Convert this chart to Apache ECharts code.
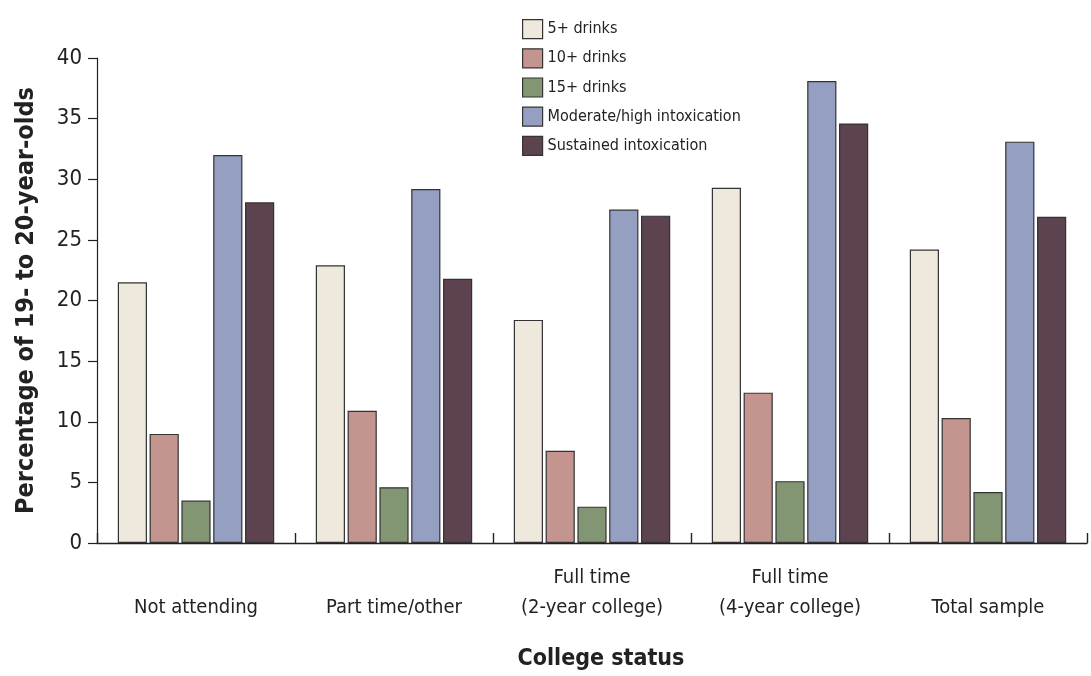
<!DOCTYPE html>
<html>
<head>
<meta charset="utf-8">
<script src="https://cdn.jsdelivr.net/npm/echarts@6/dist/echarts.min.js"></script>
<style>
html,body{margin:0;padding:0;background:#fff;}
#chart{width:1091px;height:676px;}
</style>
</head>
<body>
<div id="chart"></div>
<script>
var categories = ['Not attending', 'Part time/other', 'Full time\n(2-year college)', 'Full time\n(4-year college)', 'Total sample'];
var seriesNames = ['5+ drinks', '10+ drinks', '15+ drinks', 'Moderate/high intoxication', 'Sustained intoxication'];
var drinks5 = [21.5, 22.9, 18.4, 29.3, 24.2];
var drinks10 = [9.0, 10.9, 7.6, 12.4, 10.3];
var drinks15 = [3.5, 4.6, 3.0, 5.1, 4.2];
var moderateHigh = [32.0, 29.2, 27.5, 38.1, 33.1];
var sustained = [28.1, 21.8, 27.0, 34.6, 26.9];
var yTicks = [0, 5, 10, 15, 20, 25, 30, 35, 40];

var colors = ['#EFE8DC', '#C4948E', '#839674', '#949FC2', '#5D4350'];
var allData = [drinks5, drinks10, drinks15, moderateHigh, sustained];
var fontFam = '"Liberation Sans Narrow", "DejaVu Sans Condensed", "Liberation Sans", sans-serif';

var chart = echarts.init(document.getElementById('chart'));
chart.setOption({
  animation: false,
  textStyle: { fontFamily: fontFam, color: '#222' },
  legend: {
    orient: 'vertical',
    left: 517,
    top: 14,
    icon: 'rect',
    itemWidth: 20,
    itemHeight: 19,
    itemGap: 9,
    textStyle: { fontSize: 16, color: '#222', fontFamily: fontFam },
    data: seriesNames.map(function (n, i) {
      return { name: n, itemStyle: { color: colors[i], borderColor: '#333', borderWidth: 1.2 } };
    })
  },
  grid: { left: 97, right: 4, top: 58, bottom: 131, containLabel: false },
  xAxis: {
    type: 'category',
    data: categories,
    axisLine: { lineStyle: { color: '#222', width: 1.4 } },
    axisTick: { show: true, inside: true, length: 10, alignWithLabel: false, lineStyle: { color: '#222', width: 1.4 } },
    axisLabel: { fontSize: 20, color: '#222', fontFamily: fontFam, lineHeight: 30, verticalAlign: 'bottom', margin: 80, interval: 0 },
    name: 'College status',
    nameLocation: 'middle',
    nameGap: 105,
    nameTextStyle: { fontSize: 23, fontWeight: 'bold', color: '#222', fontFamily: fontFam, padding: [0, 0, 0, 18] }
  },
  yAxis: {
    type: 'value',
    min: yTicks[0],
    max: yTicks[yTicks.length - 1],
    interval: 5,
    splitLine: { show: false },
    axisLine: { show: true, lineStyle: { color: '#222', width: 1.2 } },
    axisTick: { show: true, length: 9, lineStyle: { color: '#222', width: 1.2 } },
    axisLabel: { fontSize: 22, color: '#222', fontFamily: fontFam, margin: 15 },
    name: 'Percentage of 19- to 20-year-olds',
    nameLocation: 'middle',
    nameGap: 58,
    nameTextStyle: { fontSize: 25, fontWeight: 'bold', color: '#222', fontFamily: fontFam }
  },
  series: seriesNames.map(function (n, i) {
    return {
      name: n,
      type: 'bar',
      data: allData[i],
      barGap: '9%',
      barCategoryGap: '21%',
      itemStyle: { color: colors[i], borderColor: '#333', borderWidth: 1.2 }
    };
  })
});
</script>
</body>
</html>
